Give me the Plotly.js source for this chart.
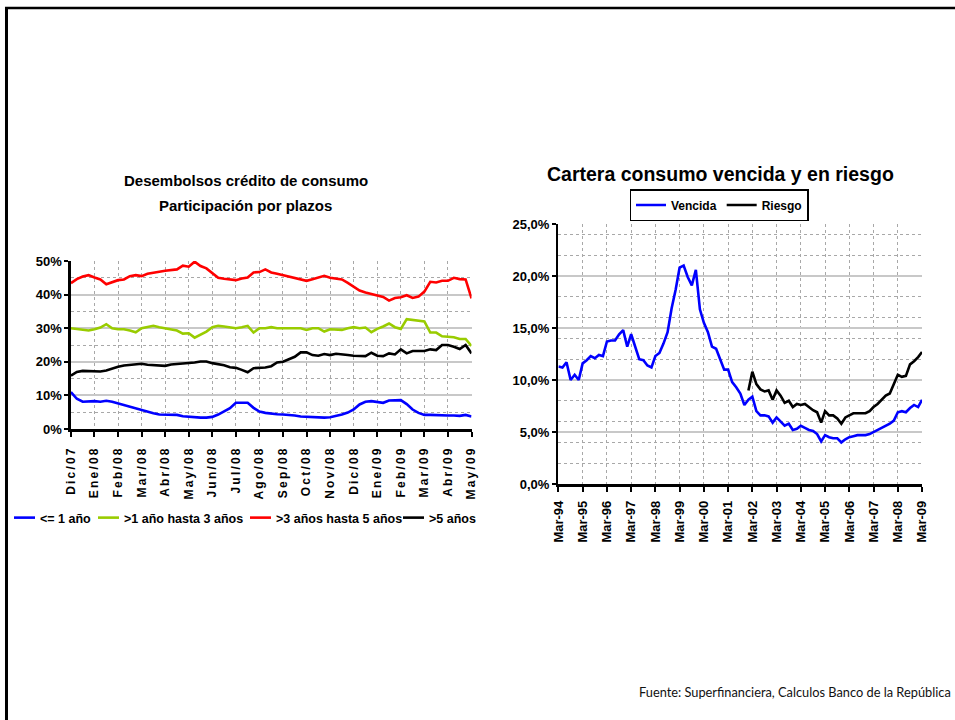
<!DOCTYPE html>
<html>
<head>
<meta charset="utf-8">
<script src="https://cdn.plot.ly/plotly-3.0.1.min.js"></script>
<style>
  html, body { margin: 0; padding: 0; background: #fff; }
  #chart { width: 955px; height: 720px; }
  #chart .xtick text { letter-spacing: 2.2px; }
</style>
</head>
<body>
<div id="chart"></div>
<script>
// ---------- Left chart: Desembolsos crédito de consumo (weekly-ish, Dic/07 .. May/09) ----------
const leftTickLabels = ["Dic/07","Ene/08","Feb/08","Mar/08","Abr/08","May/08","Jun/08","Jul/08","Ago/08",
  "Sep/08","Oct/08","Nov/08","Dic/08","Ene/09","Feb/09","Mar/09","Abr/09","May/09"];
const leftStep = 0.25; // quarter-month sampling

const hasta1 = [11.0,9.0,8.1,8.3,8.3,8.1,8.4,8.1,7.6,7.0,6.5,6.2,5.7,5.2,4.7,4.3,4.2,4.2,4.2,3.8,
  3.6,3.4,3.4,3.4,3.6,4.3,5.2,6.2,7.8,7.9,7.8,6.3,5.2,4.8,4.5,4.4,4.3,4.2,4.0,3.7,
  3.6,3.6,3.5,3.4,3.5,3.8,4.3,4.9,5.8,7.3,8.1,8.3,8.0,7.8,8.5,8.6,8.6,7.4,5.8,4.8,
  4.2,4.2,4.1,3.9,4.0,4.0,3.9,4.2,3.7];
const de1a3 = [30.0,29.7,29.4,29.3,29.7,30.2,31.2,30.0,29.7,29.7,29.3,28.8,30.0,30.3,30.7,30.3,30.0,29.8,29.3,28.4,
  28.5,27.2,28.2,29.0,30.3,30.7,30.5,30.2,30.0,30.3,30.7,28.7,30.0,30.0,30.3,30.0,30.0,30.0,29.8,30.0,
  29.5,30.0,30.0,29.0,29.7,29.6,29.5,30.0,30.3,30.0,30.2,28.8,29.8,30.5,31.4,30.3,29.8,32.7,32.5,32.3,
  32.0,28.7,28.7,27.6,27.4,27.3,26.8,26.8,24.7];
const de3a5 = [43.4,44.6,45.4,45.8,45.1,44.5,43.1,43.8,44.3,44.5,45.5,45.8,45.5,46.2,46.6,46.8,47.1,47.2,47.5,48.6,
  48.3,49.8,48.5,47.8,46.3,45.0,44.7,44.5,44.3,44.8,45.1,46.6,46.7,47.5,46.6,46.2,45.8,45.3,44.8,44.4,
  44.1,44.6,45.0,45.6,45.0,44.8,44.5,43.5,42.4,41.2,40.6,40.1,39.8,39.3,38.2,39.0,39.2,39.8,39.0,39.4,
  40.9,43.8,43.6,44.1,44.1,45.0,44.6,44.5,38.9];
const mas5 = [15.9,17.0,17.3,17.3,17.3,17.1,17.4,18.0,18.5,18.9,19.0,19.3,19.4,19.1,19.0,18.8,18.8,19.2,19.3,19.5,
  19.7,19.8,20.1,20.1,19.6,19.3,19.0,18.4,18.2,17.6,16.9,18.1,18.1,18.3,18.7,19.8,20.0,20.8,21.5,22.8,
  22.8,22.0,21.8,22.3,22.0,22.4,22.3,22.0,21.8,21.8,21.7,22.7,21.8,21.7,22.5,22.2,23.7,22.5,23.2,23.2,
  23.2,23.7,23.5,25.0,25.0,24.5,23.8,25.0,22.5];
const leftNames = ["<= 1 año", ">1 año hasta 3 años", ">3 años hasta 5 años", ">5 años"];
const leftColors = ["#0000ff", "#99cc00", "#ff0000", "#000000"];

// ---------- Right chart: Cartera consumo vencida y en riesgo (bimonthly from Mar-94) ----------
const vencida = [11.3,11.2,11.7,10.0,10.5,10.0,11.6,11.9,12.3,12.1,12.4,12.3,13.7,13.8,13.8,14.4,14.8,13.2,14.4,13.1,
  12.0,11.9,11.4,11.2,12.3,12.6,13.5,14.6,16.9,18.7,20.8,21.0,19.9,19.1,20.6,16.8,15.5,14.6,13.2,13.0,
  12.0,11.0,11.0,9.8,9.3,8.7,7.6,8.1,8.4,7.0,6.6,6.6,6.5,5.9,6.4,6.0,5.6,5.8,5.2,5.3,
  5.6,5.4,5.2,5.1,4.8,4.1,4.7,4.5,4.4,4.4,4.0,4.3,4.5,4.6,4.7,4.7,4.7,4.8,5.0,5.2,
  5.4,5.6,5.8,6.1,6.9,7.0,6.9,7.3,7.6,7.4,8.1];
const vencidaStart = "1994-03";
const riesgo = [9.0,10.8,9.6,9.1,8.9,9.0,8.1,9.0,8.5,7.8,8.0,7.4,7.7,7.6,7.7,7.4,7.1,6.9,5.9,7.0,
  6.6,6.6,6.3,5.8,6.4,6.6,6.8,6.8,6.8,6.8,7.0,7.4,7.7,8.1,8.5,8.7,9.7,10.5,10.3,10.4,
  11.5,11.8,12.2,12.7];
const riesgoStart = "2002-01";
const rightMonthStep = 2;

// ---------- helpers ----------
function monthSeries(start, n, step) {
  const [y0, m0] = start.split("-").map(Number);
  const out = [];
  for (let i = 0; i < n; i++) {
    const t = (m0 - 1) + i * step;
    const y = y0 + Math.floor(t / 12), m = (t % 12) + 1;
    out.push(y + "-" + String(m).padStart(2, "0") + "-01");
  }
  return out;
}
const W = 955, H = 720;
const px = v => v / W, py = v => 1 - v / H;

const leftX = hasta1.map((_, i) => i * leftStep);
const leftSeries = [hasta1, de1a3, de3a5, mas5];
const leftLegendIds = ["legend", "legend3", "legend4", "legend5"];
const leftLegendX = [-1, 84, 236, 389];

const traces = leftSeries.map((s, k) => ({
  type: "scatter", mode: "lines", x: leftX, y: s, name: leftNames[k],
  line: { color: leftColors[k], width: 2.6 }, xaxis: "x", yaxis: "y", legend: leftLegendIds[k],
  hoverinfo: "skip"
}));
traces.push({
  type: "scatter", mode: "lines", x: monthSeries(vencidaStart, vencida.length, rightMonthStep), y: vencida,
  name: "Vencida", line: { color: "#0000ff", width: 2.6 }, xaxis: "x2", yaxis: "y2", legend: "legend2"
});
traces.push({
  type: "scatter", mode: "lines", x: monthSeries(riesgoStart, riesgo.length, rightMonthStep), y: riesgo,
  name: "Riesgo", line: { color: "#000000", width: 2.6 }, xaxis: "x2", yaxis: "y2", legend: "legend2"
});

const bold = (size) => ({ family: "Liberation Sans, Arial, sans-serif", size: size, color: "#000", weight: 700 });

const layout = {
  width: W, height: H,
  margin: { l: 0, r: 0, t: 0, b: 0 },
  paper_bgcolor: "#fff", plot_bgcolor: "#fff",
  separators: ",.",
  showlegend: true,
  xaxis: {
    domain: [px(70), px(471)], anchor: "y", range: [0, leftTickLabels.length - 1],
    tickmode: "array", tickvals: leftTickLabels.map((_, i) => i), ticktext: leftTickLabels,
    tickangle: -90, tickfont: bold(12), ticklabelstandoff: 5,
    showgrid: true, gridcolor: "#a8a8a8", gridwidth: 1, griddash: "dot",
    showline: true, linecolor: "#000", linewidth: 2.5, ticks: "outside", ticklen: 5, tickwidth: 2, tickcolor: "#000",
    zeroline: false, fixedrange: true
  },
  yaxis: {
    domain: [py(429), py(261)], anchor: "x", range: [0, 50], dtick: 10, ticksuffix: "%",
    tickfont: bold(13),
    showgrid: true, gridcolor: "#c8c8c8", gridwidth: 2,
    minor: { dtick: 5, showgrid: true, gridcolor: "#a8a8a8", gridwidth: 1, griddash: "dot" },
    showline: true, linecolor: "#000", linewidth: 2.5, ticks: "outside", ticklen: 4, tickwidth: 2, tickcolor: "#000",
    zeroline: false, fixedrange: true
  },
  xaxis2: {
    domain: [px(558), px(922)], anchor: "y2", type: "date",
    range: ["1994-03-01", "2009-03-01"], tick0: "1994-03-01", dtick: "M12", tickformat: "%b-%y",
    tickangle: -90, tickfont: bold(13), ticklabelstandoff: 4,
    showgrid: true, gridcolor: "#a8a8a8", gridwidth: 1, griddash: "dot",
    showline: true, linecolor: "#000", linewidth: 2.5, ticks: "outside", ticklen: 5, tickwidth: 2, tickcolor: "#000",
    zeroline: false, fixedrange: true
  },
  yaxis2: {
    domain: [py(484), py(224)], anchor: "x2", range: [0, 25], dtick: 5, tickformat: ".1f", ticksuffix: "%",
    tickfont: bold(13),
    showgrid: true, gridcolor: "#c8c8c8", gridwidth: 2,
    minor: { dtick: 2, showgrid: true, gridcolor: "#a8a8a8", gridwidth: 1, griddash: "dot" },
    showline: true, linecolor: "#000", linewidth: 2.5, ticks: "outside", ticklen: 4, tickwidth: 2, tickcolor: "#000",
    zeroline: false, fixedrange: true
  },
  legend2: {
    orientation: "h", x: px(719), xanchor: "center", y: py(205), yanchor: "middle",
    font: bold(12), bgcolor: "#fff", bordercolor: "#000", borderwidth: 1.5, itemwidth: 30
  },
  annotations: [
    { text: "Desembolsos crédito de consumo", xref: "paper", yref: "paper", x: px(245), y: py(180),
      xanchor: "center", yanchor: "middle", showarrow: false, font: bold(15) },
    { text: "Participación por plazos", xref: "paper", yref: "paper", x: px(245), y: py(205),
      xanchor: "center", yanchor: "middle", showarrow: false, font: bold(15) },
    { text: "Cartera consumo vencida y en riesgo", xref: "paper", yref: "paper", x: px(720), y: py(174),
      xanchor: "center", yanchor: "middle", showarrow: false, font: bold(19.5) },
    { text: "Fuente: Superfinanciera, Calculos Banco de la República", xref: "paper", yref: "paper",
      x: px(953), y: py(692), xanchor: "right", yanchor: "middle", showarrow: false,
      font: { family: "Lato, Open Sans, sans-serif", size: 12.8, color: "#111" } }
  ],
  shapes: [
    { type: "line", xref: "paper", yref: "paper", x0: px(4), x1: 1, y0: py(8), y1: py(8),
      line: { color: "#000", width: 2.5 } },
    { type: "line", xref: "paper", yref: "paper", x0: px(5.5), x1: px(5.5), y0: py(7), y1: 0,
      line: { color: "#000", width: 3 } }
  ]
};
leftLegendIds.forEach((id, k) => {
  layout[id] = {
    orientation: "h", x: px(leftLegendX[k]), xanchor: "left", y: py(518), yanchor: "middle",
    font: bold(12.5), bgcolor: "rgba(0,0,0,0)", borderwidth: 0, itemwidth: 30
  };
});

Plotly.newPlot("chart", traces, layout, { displayModeBar: false, staticPlot: true }).then(gd => {
  // shorter legend line samples for the left chart, as in the original
  leftLegendIds.forEach(id => {
    gd.querySelectorAll("g." + id + " .legendlines path").forEach(p => p.setAttribute("d", "M14,0h21"));
  });
});
</script>
</body>
</html>
